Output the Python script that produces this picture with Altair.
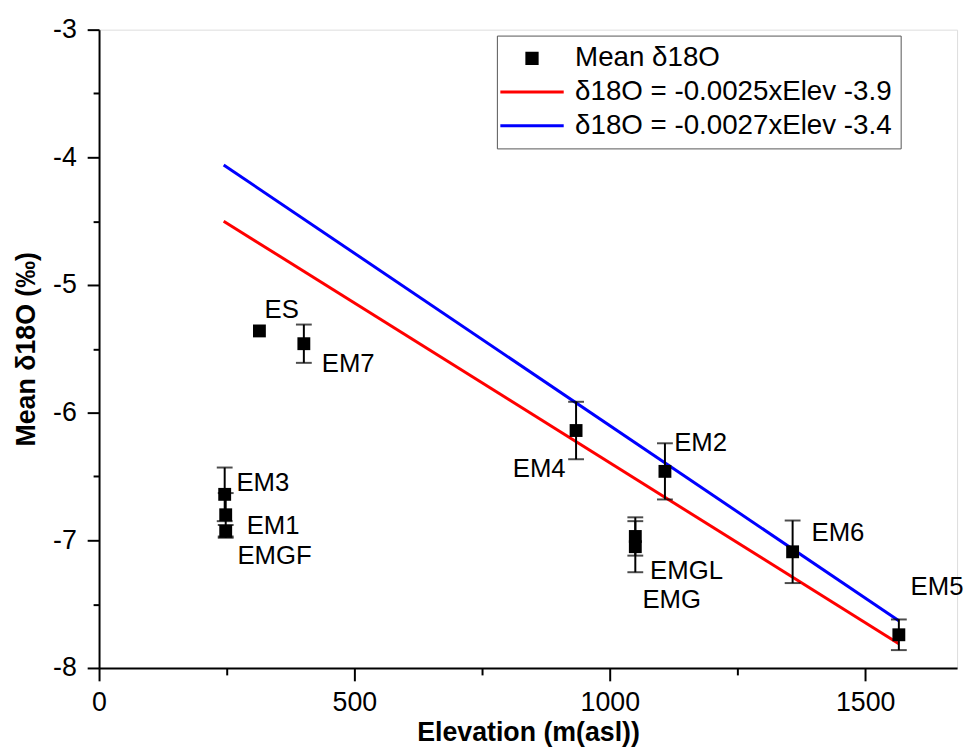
import altair as alt
import pandas as pd

# ---- data ----
sites = ["ES", "EM7", "EM3", "EM1", "EMGF", "EM4", "EM2", "EMGL", "EMG", "EM6", "EM5"]
elevation = [314, 401, 246, 248, 248, 934, 1108, 1050, 1050, 1358, 1566]
mean_d18o = [-5.36, -5.46, -6.64, -6.80, -6.93, -6.14, -6.46, -6.97, -7.05, -7.09, -7.74]
err = [0.0, 0.15, 0.21, 0.17, 0.05, 0.225, 0.22, 0.15, 0.20, 0.245, 0.12]

label_x = [324, 436, 269, 289, 271, 810, 1126, 1079, 1064, 1395, 1589]
label_y = [-5.20, -5.62, -6.55, -6.89, -7.12, -6.44, -6.24, -7.24, -7.47, -6.94, -7.37]

fit_x = [244, 1566]
red_y = [-4.50, -7.81]
blue_y = [-4.06, -7.63]

series = ["Mean δ18O", "δ18O = -0.0025xElev -3.9", "δ18O = -0.0027xElev -3.4"]
colors = ["#000000", "#ff0000", "#0000ff"]
# legend glyphs: a filled square centred on the line-sample column, and line samples
legend_shapes = ["M1.12,-0.8H2.72V0.8H1.12Z", "M-3,0H6.85", "M-3,0H6.85"]

x_ticks = [0, 250, 500, 750, 1000, 1250, 1500]
y_ticks = [-8, -7.5, -7, -6.5, -6, -5.5, -5, -4.5, -4, -3.5, -3]

FONT = "Liberation Sans"

pts = pd.DataFrame({"site": sites, "elev": elevation, "d18o": mean_d18o, "err": err,
                    "lx": label_x, "ly": label_y})
pts["lo"] = pts["d18o"] - pts["err"]
pts["hi"] = pts["d18o"] + pts["err"]
pts["series"] = series[0]
eb = pts[pts["err"] > 0]

lines = pd.DataFrame({"elev": fit_x + fit_x, "d18o": red_y + blue_y,
                      "series": [series[1]] * 2 + [series[2]] * 2})
legend_only = pd.DataFrame({"elev": pd.Series([], dtype=float), "d18o": pd.Series([], dtype=float),
                            "series": pd.Series([], dtype=str)})

xscale = alt.Scale(domain=[0, 1680], nice=False, zero=False)
yscale = alt.Scale(domain=[-8, -3], nice=False, zero=False)

common_axis = dict(domainColor="black", domainWidth=2, tickColor="black", tickWidth=2,
                   labelFont=FONT, labelFontSize=27, labelColor="black",
                   titleFont=FONT, titleFontSize=27, titleFontWeight="bold", titleColor="black",
                   grid=False, labelFlush=False, labelOverlap=False)

xaxis = alt.Axis(values=x_ticks,
                 labelExpr="datum.value % 500 === 0 ? '' + datum.value : ''",
                 tickSize={"condition": {"test": "datum.value % 500 === 0", "value": 13}, "value": 7},
                 labelPadding=9, titlePadding=4, **common_axis)
yaxis = alt.Axis(values=y_ticks,
                 labelExpr="datum.value % 1 === 0 ? '' + datum.value : ''",
                 tickSize={"condition": {"test": "datum.value % 1 === 0", "value": 12}, "value": 6},
                 labelPadding=11, titlePadding=12, **common_axis)

X = alt.X("elev:Q", scale=xscale, axis=xaxis, title="Elevation (m(asl))")
Y = alt.Y("d18o:Q", scale=yscale, axis=yaxis, title="Mean δ18O (‰)")

legend = alt.Legend(
    orient="none", legendX=402, legendY=6, title=None,
    labelFont=FONT, labelFontSize=28, labelColor="black", labelLimit=500,
    symbolSize=169, labelOffset=42, rowPadding=6, padding=9, symbolStrokeWidth=3,
    strokeColor="#555555", fillColor="white", symbolOpacity=1,
)
stroke_enc = alt.Stroke("series:N", scale=alt.Scale(domain=series, range=colors), legend=legend)
fill_enc = alt.Fill("series:N", scale=alt.Scale(domain=series, range=colors), legend=legend)
shape_enc = alt.Shape("series:N", scale=alt.Scale(domain=series, range=legend_shapes), legend=legend)

line_layer = alt.Chart(lines).mark_line(strokeWidth=3).encode(x=X, y=Y, stroke=stroke_enc)
legend_layer = alt.Chart(legend_only).mark_point(filled=True, opacity=1).encode(
    x=X, y=Y, fill=fill_enc, stroke=stroke_enc, shape=shape_enc)
rule_layer = alt.Chart(eb).mark_rule(color="black", strokeWidth=2).encode(x=X, y="lo:Q", y2="hi:Q")
cap_lo = alt.Chart(eb).mark_tick(color="black", orient="horizontal", size=16, thickness=2).encode(x=X, y="lo:Q")
cap_hi = alt.Chart(eb).mark_tick(color="black", orient="horizontal", size=16, thickness=2).encode(x=X, y="hi:Q")
pt_layer = alt.Chart(pts).mark_square(size=169, opacity=1, color="black").encode(x=X, y=Y)
txt_layer = alt.Chart(pts).mark_text(align="left", baseline="middle", font=FONT, fontSize=26,
                                      color="black").encode(x=alt.X("lx:Q"), y=alt.Y("ly:Q"), text="site:N")

chart = alt.layer(line_layer, legend_layer, rule_layer, cap_lo, cap_hi, pt_layer, txt_layer).properties(
    width=867, height=645,
    padding={"left": 4, "top": 4, "right": 0, "bottom": 0},
).configure_view(stroke=None).configure(background="white")

chart.save("out.html", embed_options={"renderer": "svg", "actions": False})
